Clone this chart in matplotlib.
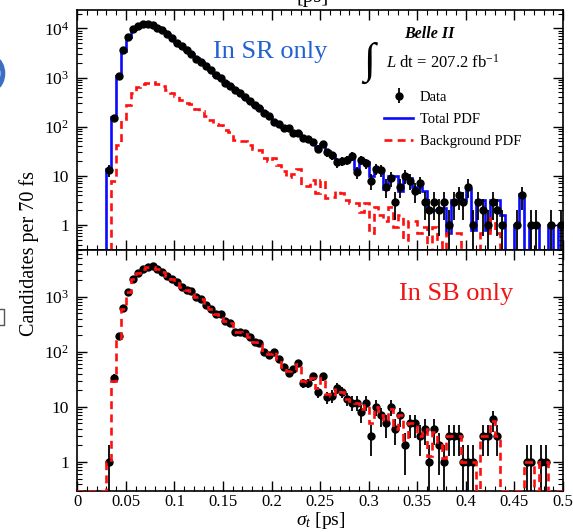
import numpy as np
import matplotlib
matplotlib.use('Agg')
import matplotlib.pyplot as plt
from matplotlib.ticker import MultipleLocator, LogLocator, FixedLocator, FixedFormatter, NullFormatter
from matplotlib.patches import Arc
from matplotlib.lines import Line2D

plt.rcParams['font.family'] = ['Liberation Serif', 'DejaVu Serif']
plt.rcParams['mathtext.fontset'] = 'custom'
plt.rcParams['mathtext.rm'] = 'Liberation Serif'
plt.rcParams['mathtext.it'] = 'Liberation Serif:italic'
plt.rcParams['mathtext.bf'] = 'Liberation Serif:bold'

# 100 bins of sigma_t between 0 and 0.5 ps
bin_edges = np.linspace(0, 0.5, 101)

# signal region: data, total fit and background component (counts per bin)
sr_data = [0, 0, 0, 0, 0, 0, 13, 150, 1070, 3550,
           6700, 9600, 11200, 12500, 12400, 11900, 10400, 9100, 7500, 6400,
           5150, 4350, 3550, 3050, 2400, 2080, 1680, 1420, 1130, 970,
           790, 680, 550, 480, 395, 335, 275, 240, 190, 162,
           125, 112, 95, 92, 76, 76, 58, 56, 49, 36,
           45, 30, 26, 19, 20, 21, 25, 12, 21, 18,
           8, 14, 13, 6, 9, 3, 6, 10, 8, 5,
           7, 3, 2, 3, 2, 3, 1, 3, 4, 3,
           6, 1, 3, 2, 1, 3, 2, 1, 0, 0,
           1, 4, 0, 1, 1, 0, 0, 1, 0, 1]
sr_total = [0, 0, 0, 0, 0, 0, 14, 160, 1080, 3500,
            6800, 9500, 11300, 12400, 12500, 11800, 10500, 9000, 7600, 6300,
            5200, 4300, 3600, 3000, 2450, 2050, 1700, 1400, 1150, 960,
            800, 670, 560, 470, 400, 330, 280, 235, 195, 160,
            130, 115, 98, 90, 78, 74, 60, 55, 50, 38,
            44, 32, 27, 21, 20, 22, 24, 14, 20, 19,
            10, 14, 13, 5.5, 10, 10, 5, 10, 9, 6,
            6, 5, 2, 2, 2, 2.2, 0.7, 3.2, 3.2, 3.2,
            5.5, 0.8, 3.2, 3.2, 0.8, 3.2, 3.2, 1.6, 0, 0,
            1, 4.2, 0, 1, 1, 0, 0, 1, 0, 1]
sr_bkg = [0, 0, 0, 0, 0, 0, 0, 7.7, 42, 145,
          280, 480, 630, 740, 790, 800, 750, 660, 560, 480,
          420, 350, 310, 290, 225, 210, 165, 140, 113, 110,
          84, 78, 53, 52, 50, 43, 35, 33, 23, 20,
          23, 17, 12.4, 9.7, 11, 14, 6.2, 6.2, 8.3, 4.4,
          8.3, 3.5, 3.7, 5, 4.4, 3.2, 2.8, 2.8, 1.8, 2.8,
          0.7, 2.3, 1.6, 1.2, 2.3, 0.9, 1.6, 0.5, 1.2, 1.2,
          0.7, 0.9, 0.23, 0.9, 0.46, 0.23, 0.7, 0.7, 0.7, 0.23,
          0.23, 0.23, 0, 0.7, 0.7, 1.4, 0.7, 0, 0, 0,
          0, 0, 0.23, 0.23, 0, 0.23, 0.23, 0, 0, 0]

# sideband: data and background template
sb_data = [0, 0, 0, 0, 0, 0, 1, 33, 190, 615,
           1230, 2130, 2700, 3170, 3460, 3550, 3230, 2850, 2410, 2100,
           1820, 1520, 1340, 1260, 970, 910, 720, 600, 490, 480,
           365, 340, 230, 228, 220, 185, 152, 144, 98, 89,
           100, 75, 54, 42, 48, 62, 27, 27, 36, 19,
           36, 15, 16, 22, 19, 14, 12, 12, 8, 12,
           3, 10, 7, 5, 10, 4, 7, 2, 5, 5,
           3, 4, 1, 4, 2, 1, 3, 3, 3, 1,
           1, 1, 0, 3, 3, 6, 3, 0, 0, 0,
           0, 0, 1, 1, 0, 1, 1, 0, 0, 0]
sb_bkg = [0, 0, 0, 0, 0, 0, 1, 30, 180, 600,
          1200, 2100, 2700, 3150, 3450, 3500, 3250, 2850, 2400, 2100,
          1800, 1500, 1350, 1250, 980, 900, 720, 600, 490, 470,
          360, 340, 230, 225, 215, 185, 150, 140, 98, 90,
          98, 75, 54, 44, 47, 60, 30, 28, 34, 22,
          34, 17, 16, 21, 19, 14, 13, 12, 9, 11,
          5, 10, 7, 5.5, 9, 4, 7, 2.5, 5, 5,
          3, 4, 1.3, 3.5, 2, 1.2, 3, 3, 3, 1,
          1, 1, 0, 3, 3, 5.5, 3, 0, 0, 0,
          0, 0, 1, 1, 0, 1, 1, 0, 0, 0]

x_ticks = [0, 0.05, 0.1, 0.15, 0.2, 0.25, 0.3, 0.35, 0.4, 0.45, 0.5]
x_tick_labels = ['0', '0.05', '0.1', '0.15', '0.2', '0.25', '0.3', '0.35', '0.4', '0.45', '0.5']
y_ticks = [1, 10, 100, 1000, 10000]
y_tick_labels = ['1', '10', '$10^{2}$', '$10^{3}$', '$10^{4}$']

BLUE = '#0a0aff'
RED = '#ff1010'


def draw_data(ax, counts, z):
    counts = np.array(counts, dtype=float)
    centers = 0.5 * (bin_edges[:-1] + bin_edges[1:])
    m = counts > 0
    err = np.sqrt(counts[m])
    lo = np.minimum(err, counts[m] * 0.999)
    ax.errorbar(centers[m], counts[m], yerr=[lo, err], fmt='o', color='black',
                ms=5, elinewidth=1.3, capsize=0, zorder=z)


def style_axis(ax, ymin, ymax, show_x):
    ax.set_yscale('log')
    ax.set_xlim(0, 0.5)
    ax.set_ylim(ymin, ymax)
    ax.xaxis.set_major_locator(FixedLocator(x_ticks))
    ax.xaxis.set_minor_locator(MultipleLocator(0.01))
    if show_x:
        ax.xaxis.set_major_formatter(FixedFormatter(x_tick_labels))
    else:
        ax.xaxis.set_major_formatter(NullFormatter())
    ax.yaxis.set_major_locator(FixedLocator(y_ticks))
    ax.yaxis.set_major_formatter(FixedFormatter(y_tick_labels))
    ax.yaxis.set_minor_locator(LogLocator(base=10, subs=np.arange(2, 10)))
    ax.yaxis.set_minor_formatter(NullFormatter())
    ax.tick_params(which='both', direction='in', top=True, right=True, labelsize=12.5)
    ax.tick_params(axis='x', labelsize=12)
    ax.tick_params(which='major', length=7, width=1)
    ax.tick_params(which='minor', length=3.5, width=0.8)
    ax.tick_params(axis='y', pad=6)
    ax.tick_params(axis='x', pad=2.5)
    for s in ax.spines.values():
        s.set_linewidth(1.2)


fig = plt.figure(figsize=(5.73, 5.32), dpi=100)
ax1 = fig.add_axes([0.1349, 0.530, 0.8476, 0.451])
ax2 = fig.add_axes([0.1349, 0.0776, 0.8476, 0.4524])

# top panel: signal region
y1min, y1max = 0.31, 23500
ax1.stairs(np.clip(sr_total, y1min, None), bin_edges, color=BLUE, lw=1.9, zorder=2,
           label='Total PDF')
ax1.stairs(np.clip(sr_bkg, y1min, None), bin_edges, color=RED, lw=1.9,
           linestyle=(0, (3, 2)), zorder=2, label='Background PDF')
draw_data(ax1, sr_data, 3)
style_axis(ax1, y1min, y1max, False)

h, l = ax1.get_legend_handles_labels()
data_h = ax1.containers[0]
ax1.legend([data_h, h[0], h[1]], ['Data', 'Total PDF', 'Background PDF'],
           loc='upper left', bbox_to_anchor=(0.632, 0.665), frameon=False,
           fontsize=10.5, handlelength=2.0, handletextpad=0.45, labelspacing=0.62,
           borderpad=0, borderaxespad=0)

ax1.text(0.397, 0.825, 'In SR only', transform=ax1.transAxes, color='#2361d2',
         fontsize=19, ha='center', va='center')
ax1.text(0.725, 0.9, 'Belle II', transform=ax1.transAxes, fontsize=11.5,
         fontweight='bold', fontstyle='italic', ha='center', va='center')
ax1.text(0.6, 0.78, '\u222b', transform=ax1.transAxes, fontsize=31,
         ha='center', va='center')
ax1.text(0.636, 0.78, r'$\mathit{L}$ dt = 207.2 fb$^{\mathregular{-1}}$',
         transform=ax1.transAxes, fontsize=12, ha='left', va='center')

# bottom panel: sideband
y2min, y2max = 0.30, 7060
draw_data(ax2, sb_data, 2)
ax2.stairs(np.clip(sb_bkg, y2min, None), bin_edges, color=RED, lw=1.9,
           linestyle=(0, (3, 2)), zorder=3)
style_axis(ax2, y2min, y2max, True)
ax2.text(0.78, 0.818, 'In SB only', transform=ax2.transAxes, color='#f01414',
         fontsize=19, ha='center', va='center')

fig.text(0.05, 0.523, 'Candidates per 70 fs', rotation=90, fontsize=14.5,
         ha='center', va='center')
fig.text(0.560, 0.001, r'$\sigma_{t}$ [ps]', fontsize=14, ha='center', va='bottom')
# clipped remnants of the slide around the chart
fig.text(0.545, 1.005, '[ps]', fontsize=15, ha='center', va='center')
fig.patches.append(Arc((-0.02, 0.862), 0.05, 0.065, theta1=-70, theta2=70,
                       transform=fig.transFigure, color='#3b6fc4', lw=3.5))
fig.lines.append(Line2D([0.0, 0.007, 0.007, 0.0], [0.420, 0.420, 0.390, 0.390],
                        transform=fig.transFigure, color='#555555', lw=1))

fig.savefig('out.png', dpi=100)
